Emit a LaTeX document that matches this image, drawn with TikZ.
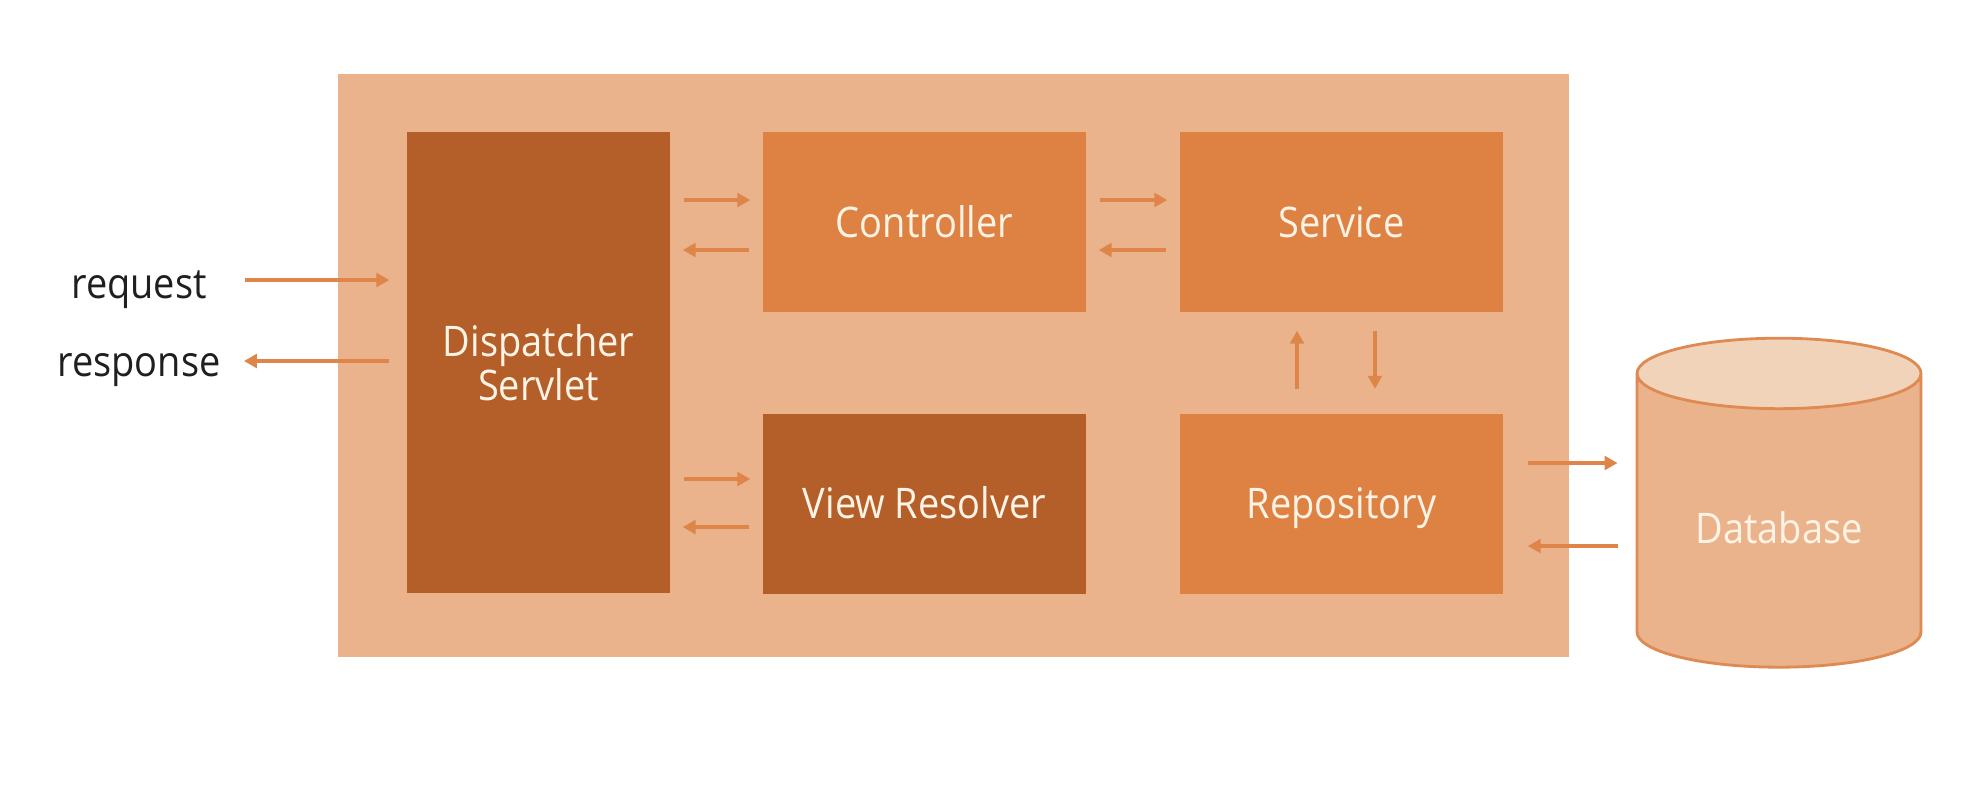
\documentclass[tikz,border=0pt]{standalone}
\usepackage{fontspec}
\setmainfont{Open Sans}[FakeStretch=0.9]
\usetikzlibrary{arrows.meta}
\usetikzlibrary{shapes.geometric}
\definecolor{containerfill}{HTML}{EAB38B}
\definecolor{lightpart}{HTML}{DE8244}
\definecolor{darkpart}{HTML}{B45F29}
\definecolor{flowcolor}{HTML}{DF8549}
\definecolor{dbtop}{HTML}{F1D3BA}
\definecolor{dbline}{HTML}{DE8A52}
\definecolor{boxtext}{HTML}{FFF3E6}
\tikzstyle{container}=[fill=containerfill, minimum width=12.31cm, minimum height=5.83cm]
\tikzstyle{box}=[text=boxtext, font=\fontsize{12}{12.5}\selectfont]
\tikzstyle{part}=[box, fill=lightpart, minimum width=3.23cm, minimum height=1.8cm, text height=8.7pt, text depth=0pt]
\tikzstyle{dark part}=[part, fill=darkpart]
\tikzstyle{database}=[box, cylinder, shape border rotate=90, aspect=0.37, draw=dbline, thick, cylinder uses custom fill, cylinder body fill=containerfill, cylinder end fill=dbtop, minimum height=3.29cm, minimum width=2.84cm, text height=8.7pt, text depth=0pt]
\tikzstyle{outside}=[text=black!88, font=\fontsize{12}{12.5}\selectfont]
\tikzstyle{flow}=[draw=flowcolor, line width=0.95pt, -{Triangle[length=3.7pt, width=3.9pt]}, shorten <=0.13cm, shorten >=0.12cm]

\begin{document}
\begin{tikzpicture}
  \useasboundingbox (0,0) rectangle (19.87,-8.07);
  \node[container] (container) at (9.535,-3.65) {};
  \node[box, fill=darkpart, minimum width=2.63cm, minimum height=4.61cm, align=center] (dispatcher) at (5.385,-3.625) {Dispatcher\\Servlet};
  \node[part] (controller) at (9.245,-2.22) {Controller};
  \node[part] (service) at (13.415,-2.22) {Service};
  \node[dark part] (resolver) at (9.245,-5.035) {View Resolver};
  \node[part] (repository) at (13.415,-5.035) {Repository};
  \node[database] (db) at (17.79,-5.28) {Database};
  \node[outside] (request) at (1.39,-2.90) {request};
  \node[outside] (response) at (1.39,-3.70) {response};

  \draw[flow, shorten <=0.26cm, shorten >=0.17cm] ([yshift=1mm]request.east) -- ([yshift=1mm]request.east -| dispatcher.west);
  \draw[flow, shorten <=0.17cm, shorten >=0.11cm] ([yshift=0.9mm]response.east -| dispatcher.west) -- ([yshift=0.9mm]response.east);
  \draw[flow] ([yshift=2.2mm]controller.west -| dispatcher.east) -- ([yshift=2.2mm]controller.west);
  \draw[flow] ([yshift=-2.8mm]controller.west) -- ([yshift=-2.8mm]controller.west -| dispatcher.east);
  \draw[flow] ([yshift=2.2mm]controller.east) -- ([yshift=2.2mm]service.west);
  \draw[flow] ([yshift=-2.8mm]service.west) -- ([yshift=-2.8mm]controller.east);
  \draw[flow] ([yshift=2.45mm]resolver.west -| dispatcher.east) -- ([yshift=2.45mm]resolver.west);
  \draw[flow] ([yshift=-2.35mm]resolver.west) -- ([yshift=-2.35mm]resolver.west -| dispatcher.east);
  \draw[flow, shorten <=0.24cm, shorten >=0.18cm] ([xshift=-4.45mm]repository.north) -- ([xshift=-4.45mm]service.south);
  \draw[flow, shorten <=0.18cm, shorten >=0.24cm] ([xshift=3.35mm]service.south) -- ([xshift=3.35mm]repository.north);
  \draw[flow, shorten <=0.24cm, shorten >=0.18cm] ([yshift=4.05mm]repository.east) -- ([yshift=4.05mm]repository.east -| db.west);
  \draw[flow, shorten <=0.18cm, shorten >=0.24cm] ([yshift=-4.25mm]repository.east -| db.west) -- ([yshift=-4.25mm]repository.east);
\end{tikzpicture}
\end{document}
